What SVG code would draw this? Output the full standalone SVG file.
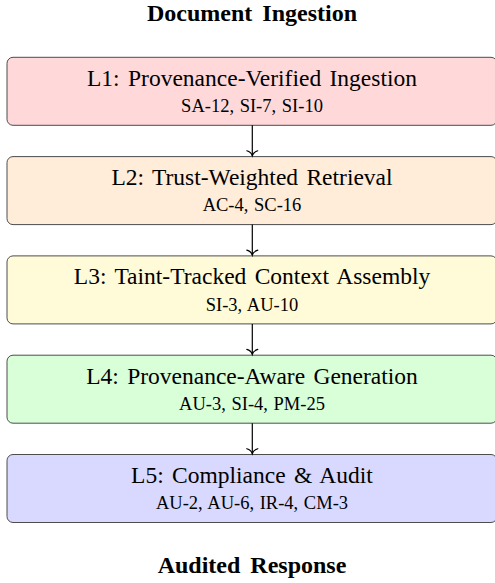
<svg xmlns="http://www.w3.org/2000/svg" width="495" height="583" viewBox="0 0 495 583">
<defs>
<style>
.box{stroke:#4d4d4d;stroke-width:1;}
.t{font-family:"Liberation Serif","Times New Roman",serif;text-anchor:middle;fill:#000;}
.lab{font-size:23.5px;word-spacing:2.5px;}
.sub{font-size:18.5px;word-spacing:1px;}
.title{font-size:24px;font-weight:bold;word-spacing:4px;}
.edge{stroke:#000;stroke-width:1.2;fill:none;marker-end:url(#arr);}
</style>
<marker id="arr" markerUnits="userSpaceOnUse" viewBox="-6 -6 8 12" markerWidth="8" markerHeight="12" refX="0" refY="0" orient="auto" overflow="visible">
<path d="M-5,-5.5 C-4,-2.2 -1.3,-0.4 0,0 C-1.3,0.4 -4,2.2 -5,5.5" stroke="#000" stroke-width="1.2" fill="none" stroke-linecap="round"/>
</marker>
</defs>
<rect width="495" height="583" fill="#fff"/>
<g id="title-top"><text class="t title" x="252" y="20.7">Document Ingestion</text></g>
<g id="L1">
<rect class="box" x="7" y="57.3" width="490" height="68" rx="6" fill="#ffd9d9"/>
<text class="t lab" x="252" y="85.6">L1: Provenance-Verified Ingestion</text>
<text class="t sub" x="252" y="112">SA-12, SI-7, SI-10</text>
</g>
<g id="L2">
<rect class="box" x="7" y="156.6" width="490" height="68" rx="6" fill="#ffecd9"/>
<text class="t lab" x="252" y="184.9">L2: Trust-Weighted Retrieval</text>
<text class="t sub" x="252" y="211.3">AC-4, SC-16</text>
</g>
<g id="L3">
<rect class="box" x="7" y="255.9" width="490" height="68" rx="6" fill="#fffbd9"/>
<text class="t lab" x="252" y="284.2">L3: Taint-Tracked Context Assembly</text>
<text class="t sub" x="252" y="310.6">SI-3, AU-10</text>
</g>
<g id="L4">
<rect class="box" x="7" y="355.2" width="490" height="68" rx="6" fill="#d9ffd9"/>
<text class="t lab" x="252" y="383.5">L4: Provenance-Aware Generation</text>
<text class="t sub" x="252" y="409.9">AU-3, SI-4, PM-25</text>
</g>
<g id="L5">
<rect class="box" x="7" y="454.5" width="490" height="68" rx="6" fill="#d9d9ff"/>
<text class="t lab" x="252" y="482.8">L5: Compliance &amp; Audit</text>
<text class="t sub" x="252" y="509.2">AU-2, AU-6, IR-4, CM-3</text>
</g>
<g id="title-bottom"><text class="t title" x="252" y="572.7">Audited Response</text></g>
<g id="connectors">
<line class="edge" x1="252.3" y1="125.3" x2="252.3" y2="155.8"/>
<line class="edge" x1="252.3" y1="224.6" x2="252.3" y2="255.1"/>
<line class="edge" x1="252.3" y1="323.9" x2="252.3" y2="354.4"/>
<line class="edge" x1="252.3" y1="423.2" x2="252.3" y2="453.7"/>
</g>
</svg>
